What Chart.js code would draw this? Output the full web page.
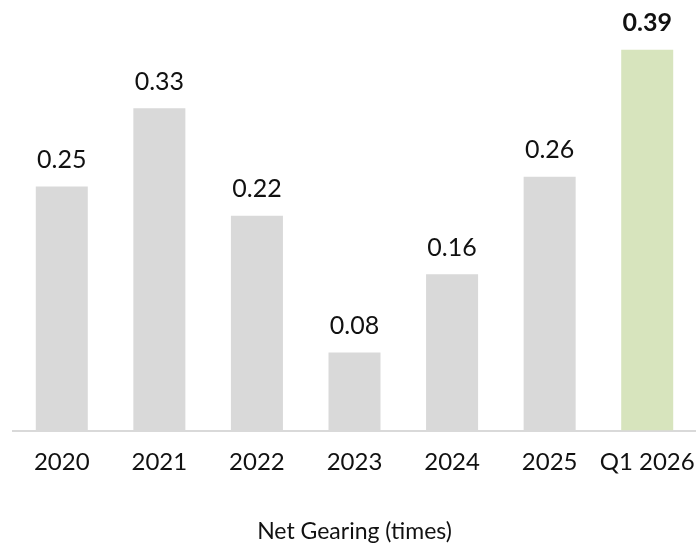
<!DOCTYPE html>
<html>
<head>
<meta charset="utf-8">
<script src="https://cdn.jsdelivr.net/npm/chart.js@4"></script>
<style>
  html, body { margin: 0; padding: 0; background: #fff; }
  #wrap { width: 696px; height: 545px; }
</style>
</head>
<body>
<div id="wrap"><canvas id="chart"></canvas></div>
<script>
// Net gearing by period
const categories = ["2020", "2021", "2022", "2023", "2024", "2025", "Q1 2026"];
const gearing = [0.25, 0.33, 0.22, 0.08, 0.16, 0.26, 0.39];
const highlightIndex = 6;

const GRAY = "#d9d9d9";
const GREEN = "#d7e4bd";
const FONT = "Lato, 'Open Sans', sans-serif";

// Draw the value above each bar
const valueLabels = {
  id: "valueLabels",
  afterDatasetsDraw(chart) {
    const ctx = chart.ctx;
    const meta = chart.getDatasetMeta(0);
    ctx.save();
    ctx.textAlign = "center";
    ctx.textBaseline = "bottom";
    ctx.fillStyle = "#111";
    meta.data.forEach((bar, i) => {
      const bold = i === highlightIndex;
      ctx.font = (bold ? "bold " : "") + "25px " + FONT;
      ctx.fillText(gearing[i].toFixed(2), bar.x, bar.y - 14);
    });
    ctx.restore();
  }
};

new Chart(document.getElementById("chart"), {
  type: "bar",
  data: {
    labels: categories,
    datasets: [{
      data: gearing,
      backgroundColor: gearing.map((v, i) => i === highlightIndex ? GREEN : GRAY),
      barPercentage: 0.533,
      categoryPercentage: 1
    }]
  },
  options: {
    responsive: true,
    maintainAspectRatio: false,
    animation: false,
    layout: { padding: { left: 13, right: 0, top: 40, bottom: 0 } },
    plugins: {
      legend: { display: false },
      tooltip: { enabled: false }
    },
    scales: {
      x: {
        grid: { display: false, drawTicks: false },
        border: { display: true, color: "#d9d9d9", width: 2 },
        ticks: {
          color: "#111",
          padding: 17,
          maxRotation: 0,
          minRotation: 0,
          autoSkip: false,
          font: { family: FONT, size: 24 }
        },
        title: {
          display: true,
          text: "Net Gearing (times)",
          color: "#111",
          font: { family: FONT, size: 23 },
          padding: { top: 24, bottom: 0 }
        },
        afterFit(scale) {
          // let the edge labels hang over instead of shrinking the plot
          scale.paddingLeft = 0;
          scale.paddingRight = 0;
        }
      },
      y: {
        display: false,
        min: 0,
        max: 0.4
      }
    }
  },
  plugins: [valueLabels]
});
</script>
</body>
</html>
